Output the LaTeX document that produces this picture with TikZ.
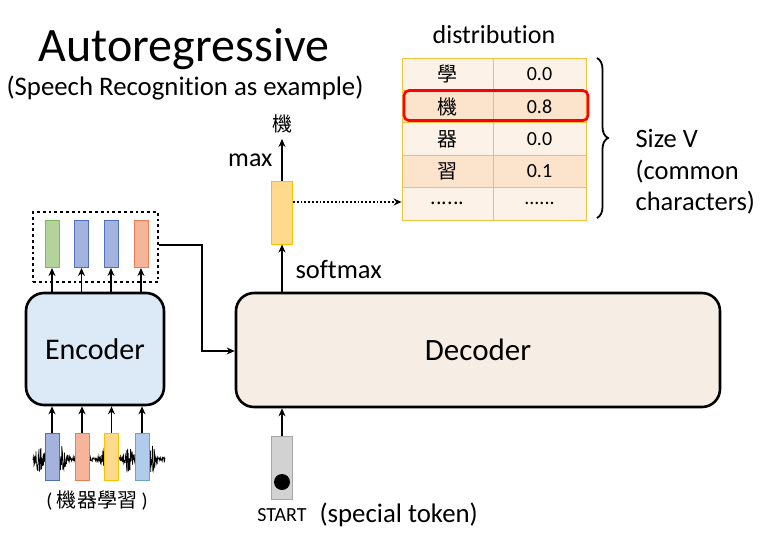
\documentclass[tikz,border=0pt]{standalone}
\usepackage{fontspec}
\setmainfont{Carlito}[Ligatures=NoCommon]
\newfontfamily\cjk{Noto Sans CJK TC}
\usetikzlibrary{arrows.meta,decorations.pathreplacing}
\newcommand\mysixdots{......}
\definecolor{encfill}{HTML}{DCE9F6}
\definecolor{decfill}{HTML}{F6EEE4}
\definecolor{rowA}{HTML}{FDF2E8}
\definecolor{rowB}{HTML}{FBE3CC}
\definecolor{tabline}{HTML}{F6C040}
\definecolor{vgreenF}{HTML}{B2D39A}\definecolor{vgreenD}{HTML}{7FB35C}
\definecolor{vblueF}{HTML}{A3B3DE}\definecolor{vblueD}{HTML}{4E70C2}
\definecolor{vorF}{HTML}{F6B49A}\definecolor{vorD}{HTML}{ED7D4C}
\definecolor{vyelF}{HTML}{FFD98C}\definecolor{vyelD}{HTML}{FFC000}
\definecolor{vlbF}{HTML}{B0CCEA}\definecolor{vlbD}{HTML}{6A9FD8}
\definecolor{tokF}{HTML}{D2D2D2}\definecolor{tokD}{HTML}{A6A6A6}
\tikzset{
  blockbox/.style={draw=black, line width=2.6pt, rounded corners=18pt},
  vecbox/.style={draw=#1D, fill=#1F, line width=1pt, minimum width=14pt, inner sep=0pt},
  arr/.style={-{Stealth[length=8pt,width=7pt]}, line width=1.8pt},
  cell/.style={draw=tabline, line width=0.8pt, minimum width=91pt, minimum height=32.4pt, inner sep=0pt, font=\fontsize{20}{22}\selectfont},
}
\begin{document}
\begin{tikzpicture}[x=1pt,y=-1pt]
\useasboundingbox (0,0) rectangle (760,544);
% titles
\node (title) at (184,49) {\fontsize{48}{52}\selectfont Autoregressive};
\node (sub) at (185,88) {\fontsize{26.8}{30}\selectfont (Speech Recognition as example)};
% encoder
\node[blockbox, fill=encfill, minimum width=138pt, minimum height=112pt] (enc) at (95,349) {\fontsize{30}{33}\selectfont Encoder};
% dotted output box
\node[draw, line width=2.8pt, dash pattern=on 2.8pt off 3pt, minimum width=125pt, minimum height=70pt] (dots) at (95.5,247) {};
\node[vecbox=vgreen, minimum height=47pt] (o1) at (52,244) {};
\node[vecbox=vblue, minimum height=47pt] (o2) at (81.5,244) {};
\node[vecbox=vblue, minimum height=47pt] (o3) at (111,244) {};
\node[vecbox=vor, minimum height=47pt] (o4) at (141,244) {};
\foreach \i/\x in {1/52,2/81.5,3/111,4/141}{
  \draw[arr] (\x,293) -- (o\i.south);
}
% waveform
\pgfmathsetseed{7}
\draw[line width=0.7pt] plot[domain=33:165, samples=400, variable=\t] (\t,{459+rand*(2+12*(sin(\t*8-40))^4)});
% input bars
\node[vecbox=vblue, minimum height=47pt] (i1) at (52,456.5) {};
\node[vecbox=vor, minimum height=47pt] (i2) at (82,456.5) {};
\node[vecbox=vyel, minimum height=47pt] (i3) at (111.5,456.5) {};
\node[vecbox=vlb, minimum height=47pt] (i4) at (142,456.5) {};
\foreach \i in {1,2,3,4}{
  \draw[arr] (i\i.north) -- (i\i.north |- enc.south);
}
\node (inlab) at (97,500) {\fontsize{20}{22}\selectfont ( {\cjk 機器學習} )};
% decoder
\node[blockbox, fill=decfill, minimum width=484pt, minimum height=114pt] (dec) at (478,350) {\fontsize{31}{34}\selectfont Decoder};
% connection encoder -> decoder
\coordinate (c1) at (202,245);
\coordinate (c2) at (202,351);
\draw[arr] (dots.east |- c1) -- (c1) -- (c2) -- (dec.west |- c2);
% softmax output
\node[vecbox=vyel, minimum width=21pt, minimum height=63pt] (sm) at (282,212.5) {};
\draw[arr] (282,293) -- (sm.south);
\node[anchor=west] (smlab) at (292,270) {\fontsize{26.5}{28}\selectfont softmax};
\node (out) at (282,124) {\fontsize{20}{22}\selectfont\cjk 機};
\draw[arr] (sm.north) -- (282,139);
\node[anchor=east] (maxlab) at (276,160) {\fontsize{26}{28}\selectfont max};
% table
\node (distlab) at (494,35) {\fontsize{26}{28}\selectfont distribution};
\foreach \r/\a/\b/\f in {0/學/0.0/rowA,1/機/0.8/rowB,2/器/0.0/rowA,3/習/0.1/rowB,4/\mysixdots/\mysixdots/rowA}{
  \node[cell, fill=\f] (l\r) at (447.5,{74.2+32.4*\r}) {\cjk \a};
  \node[cell, fill=\f, minimum width=93pt] (r\r) at (539.5,{74.2+32.4*\r}) {\b};
}
\node[draw=red, line width=2.6pt, rounded corners=5pt, minimum width=184pt, minimum height=30pt, inner sep=0pt] (hl) at (496,105.5) {};
\draw[line width=1.8pt, dotted, -{Stealth[length=8pt,width=7pt]}] (sm.east |- 0,202) -- (l4.west |- 0,202);
% brace
\draw[line width=1.8pt, decorate, decoration={brace, amplitude=11pt}] (597,58) -- (597,218);
\node[anchor=west, align=left, font=\fontsize{26.5}{31.5}\selectfont] (size) at (632,172) {Size V\\(common\\characters)};
% start token
\node[draw=tokD, fill=tokF, line width=1pt, minimum width=21pt, minimum height=63pt, inner sep=0pt] (tok) at (282,467.5) {};
\fill (282,482) circle (8pt);
\draw[arr] (tok.north) -- (tok.north |- dec.south);
\node (startlab) at (282,515) {\fontsize{20}{22}\selectfont START};
\node[anchor=west] (spec) at (316,515) {\fontsize{26.8}{30}\selectfont (special token)};
\end{tikzpicture}
\end{document}
